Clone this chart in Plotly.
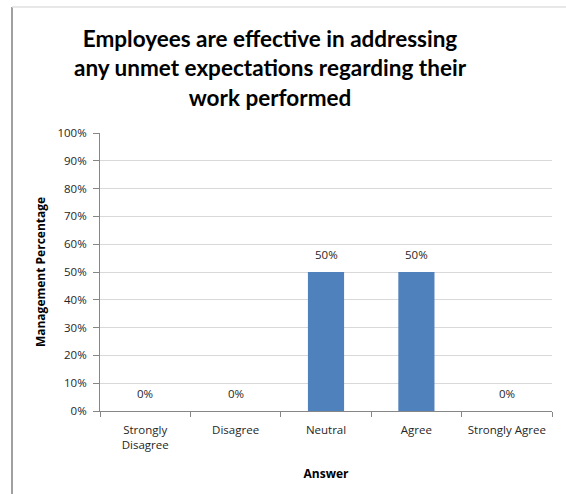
import plotly.graph_objects as go

categories = ["Strongly<br>Disagree", "Disagree", "Neutral", "Agree", "Strongly Agree"]
percentages = [0, 0, 50, 50, 0]
y_tick_values = [0, 10, 20, 30, 40, 50, 60, 70, 80, 90, 100]
y_tick_labels = [f"{v}%" for v in y_tick_values]
bar_labels = [f"{v}%" for v in percentages]

chart_title = "Employees are effective in addressing<br>any unmet expectations regarding their<br>work performed"

# plot area in pixels: x 100..552, y 133..411
W, H = 566, 494
L, R, T, B = 100, 14, 133, 83
pw, ph = W - L - R, H - T - B


def px_x(p):
    return (p - L) / pw


def px_y(p):
    return (H - B - p) / ph


tick_font = dict(family="Open Sans", size=11.5, color="#262626")

fig = go.Figure(
    go.Bar(
        x=categories,
        y=percentages,
        marker=dict(color="#4F81BD", line=dict(width=0)),
        hoverinfo="x+y",
    )
)

# value labels above each bar
value_labels = [
    dict(x=c, y=v, text=t, xref="x", yref="y", showarrow=False,
         yanchor="bottom", yshift=8, font=tick_font)
    for c, v, t in zip(categories, percentages, bar_labels)
]

fig.update_layout(
    width=W,
    height=H,
    margin=dict(l=L, r=R, t=T, b=B),
    paper_bgcolor="white",
    plot_bgcolor="white",
    showlegend=False,
    bargap=0.6,
    font=dict(family="Open Sans", size=11, color="#262626"),
    xaxis=dict(
        title=dict(text="<b>Answer</b>", font=dict(family="Open Sans", size=12, color="#000000"), standoff=18),
        tickson="boundaries",
        ticks="outside",
        ticklen=5,
        tickcolor="#868686",
        ticklabelstandoff=8,
        showline=True,
        linecolor="#868686",
        linewidth=1,
        showgrid=False,
        tickfont=tick_font,
    ),
    yaxis=dict(
        title=dict(text="<b>Management Percentage</b>", font=dict(family="Open Sans", size=12, color="#000000"), standoff=9),
        range=[0, 100],
        tickvals=y_tick_values,
        ticktext=y_tick_labels,
        ticks="outside",
        ticklen=6,
        tickcolor="#868686",
        ticklabelstandoff=4,
        showline=True,
        linecolor="#868686",
        linewidth=1,
        showgrid=True,
        gridcolor="#D9D9D9",
        gridwidth=1,
        zeroline=False,
        tickfont=tick_font,
    ),
    annotations=value_labels + [
        dict(
            text=f"<b>{chart_title}</b>",
            xref="paper",
            yref="paper",
            x=px_x(270),
            y=px_y(68),
            xanchor="center",
            yanchor="middle",
            showarrow=False,
            align="center",
            font=dict(family="Lato", size=22.5, color="#000000"),
        )
    ],
    shapes=[
        dict(type="line", xref="paper", yref="paper",
             x0=px_x(12), x1=px_x(12), y0=px_y(7), y1=px_y(494),
             line=dict(color="#808080", width=1.5)),
        dict(type="line", xref="paper", yref="paper",
             x0=px_x(12), x1=px_x(566), y0=px_y(7), y1=px_y(7),
             line=dict(color="#E0E0E0", width=1.5)),
    ],
)

fig.write_html("out.html")
